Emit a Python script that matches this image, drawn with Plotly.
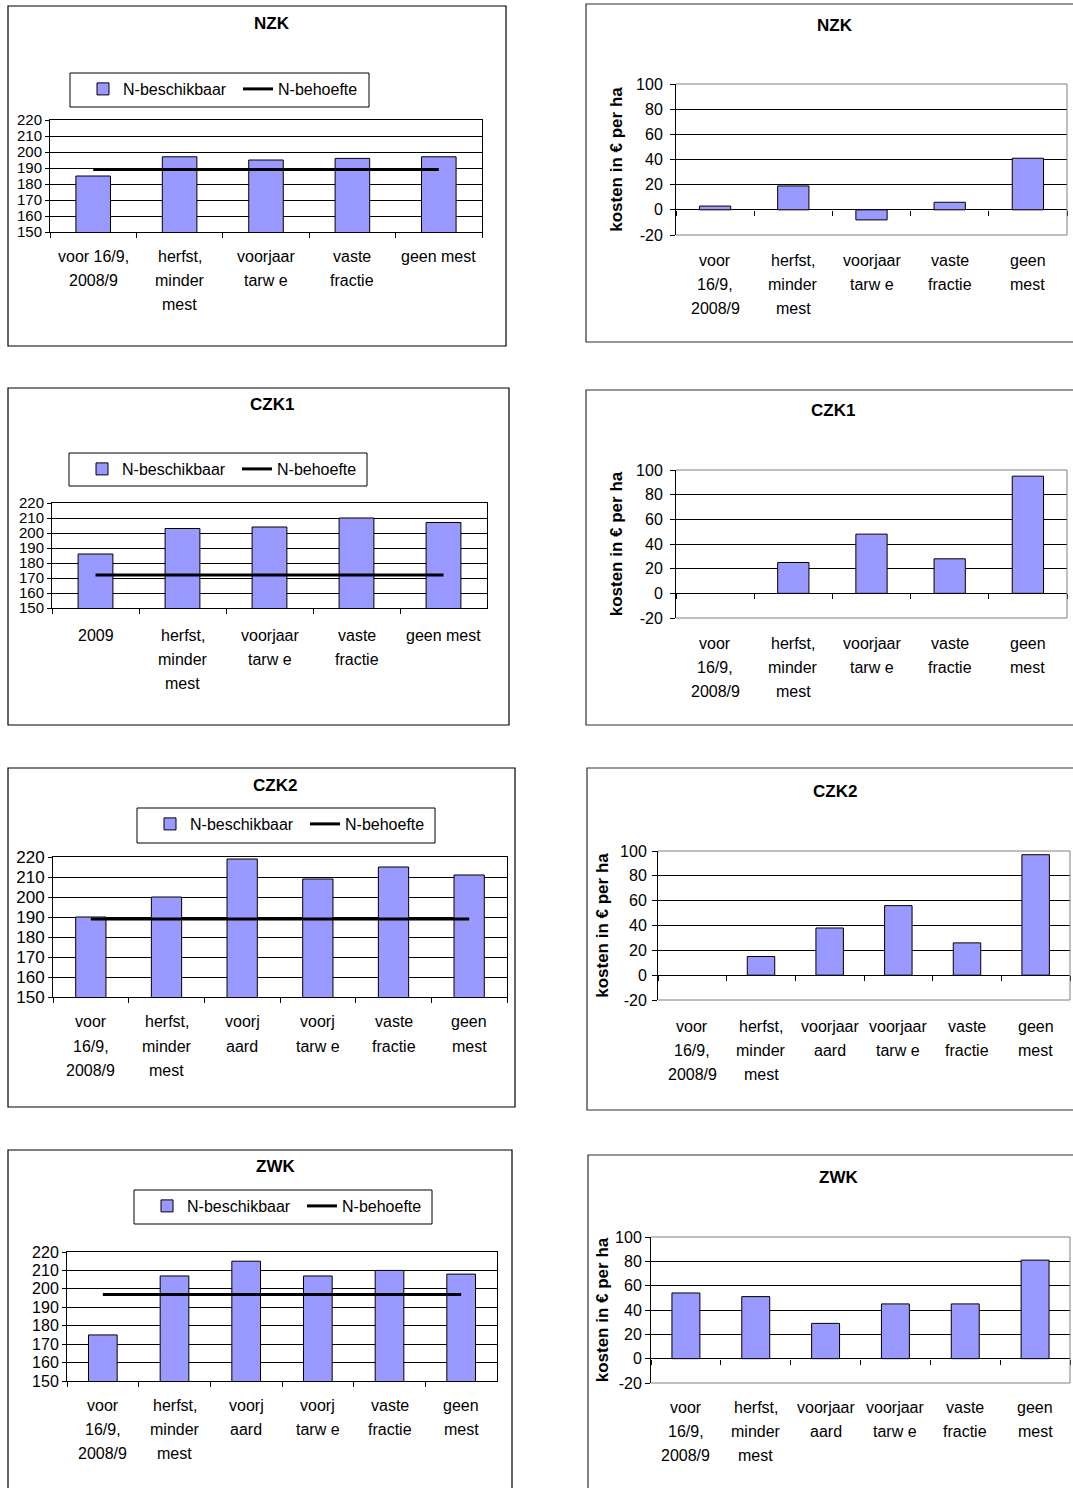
import plotly.graph_objects as go

W, H = 1073, 1488

# ---- N-balans (kg N per ha): beschikbaar vs. behoefte ----
nzk_cats = ["voor 16/9,<br>2008/9", "herfst,<br>minder<br>mest", "voorjaar<br>tarw e",
            "vaste<br>fractie", "geen mest"]
nzk_beschikbaar = [185, 197, 195, 196, 197]
nzk_behoefte = [189, 189, 189, 189, 189]

czk1_cats = ["2009", "herfst,<br>minder<br>mest", "voorjaar<br>tarw e",
             "vaste<br>fractie", "geen mest"]
czk1_beschikbaar = [186, 203, 204, 210, 207]
czk1_behoefte = [172, 172, 172, 172, 172]

czk2_cats = ["voor<br>16/9,<br>2008/9", "herfst,<br>minder<br>mest", "voorj<br>aard",
             "voorj<br>tarw e", "vaste<br>fractie", "geen<br>mest"]
czk2_beschikbaar = [190, 200, 219, 209, 215, 211]
czk2_behoefte = [189, 189, 189, 189, 189, 189]

zwk_cats = ["voor<br>16/9,<br>2008/9", "herfst,<br>minder<br>mest", "voorj<br>aard",
            "voorj<br>tarw e", "vaste<br>fractie", "geen<br>mest"]
zwk_beschikbaar = [175, 207, 215, 207, 210, 208]
zwk_behoefte = [197, 197, 197, 197, 197, 197]

# ---- kosten in euro per ha ----
kosten_cats5 = ["voor<br>16/9,<br>2008/9", "herfst,<br>minder<br>mest", "voorjaar<br>tarw e",
                "vaste<br>fractie", "geen<br>mest"]
kosten_cats6 = ["voor<br>16/9,<br>2008/9", "herfst,<br>minder<br>mest", "voorjaar<br>aard",
                "voorjaar<br>tarw e", "vaste<br>fractie", "geen<br>mest"]
nzk_kosten = [3, 19, -8, 6, 41]
czk1_kosten = [None, 25, 48, 28, 95]
czk2_kosten = [None, 15, 38, 56, 26, 97]
zwk_kosten = [54, 51, 29, 45, 45, 81]

kosten_ticks = [-20, 0, 20, 40, 60, 80, 100]
kosten_ticktext = ["-20", "0", "20", "40", "60", "80", "100"]

locaties = ["NZK", "CZK1", "CZK2", "ZWK"]

FONT = "Liberation Sans, Arial, sans-serif"
BAR = "#9999FF"
LINE_STEP = 24  # px between lines of a category label


def px_x(x):
    return x / W


def px_y(y):
    return 1 - y / H


# frames in pixels: plot area (x0, x1, ytop, ybottom), title centre, outer box, legend box,
# offset of the first category-label line below the plot area
n_panels = [
    dict(cats=nzk_cats, bars=nzk_beschikbaar, line=nzk_behoefte, plot=(50, 482, 120, 232),
         title=(272, 23), box=(8, 6, 506, 346), legend=(70, 73, 369, 107), yfont=15, lab=24),
    dict(cats=czk1_cats, bars=czk1_beschikbaar, line=czk1_behoefte, plot=(52, 487, 503, 608),
         title=(272, 404), box=(8, 388, 509, 725), legend=(69, 453, 367, 486), yfont=15, lab=27),
    dict(cats=czk2_cats, bars=czk2_beschikbaar, line=czk2_behoefte, plot=(53, 507, 857, 997),
         title=(275, 785), box=(8, 768, 515, 1107), legend=(137, 808, 435, 843), yfont=17, lab=25),
    dict(cats=zwk_cats, bars=zwk_beschikbaar, line=zwk_behoefte, plot=(67, 497, 1252, 1381),
         title=(275, 1166), box=(8, 1150, 512, 1500), legend=(134, 1190, 432, 1224), yfont=16, lab=24),
]
k_panels = [
    dict(cats=kosten_cats5, bars=nzk_kosten, plot=(676, 1067, 84, 235),
         title=(835, 25), box=(586, 4, 1085, 342), ylab=4, tstand=9, lab=25),
    dict(cats=kosten_cats5, bars=czk1_kosten, plot=(676, 1067, 470, 618),
         title=(833, 411), box=(586, 390, 1085, 725), ylab=4, tstand=9, lab=25),
    dict(cats=kosten_cats6, bars=czk2_kosten, plot=(658, 1070, 851, 1000),
         title=(835, 791), box=(587, 768, 1085, 1110), ylab=2, tstand=7, lab=26),
    dict(cats=kosten_cats6, bars=zwk_kosten, plot=(651, 1070, 1237, 1383),
         title=(838, 1177), box=(588, 1155, 1085, 1500), ylab=0, tstand=2, lab=24),
]

fig = go.Figure()
layout = {}
shapes = []
annotations = []

N_RANGE = [150, 220]
K_RANGE = [-20, 100]


def frame(x0, y0, x1, y1, color, width=1.2):
    return dict(type="rect", xref="paper", yref="paper", x0=px_x(x0), x1=px_x(x1),
                y0=px_y(y1), y1=px_y(y0), line=dict(color=color, width=width), layer="below")


def title(i, pos):
    tx, ty = pos
    return dict(text=f"<b>{locaties[i]}</b>", x=px_x(tx), y=px_y(ty), xref="paper",
                yref="paper", xanchor="center", yanchor="middle", showarrow=False,
                font=dict(size=17, color="black"))


def category_labels(xa, cats, first_line_y):
    """Multi-line category labels centred under each category (by index) of axis xa."""
    out = []
    for k, c in enumerate(cats):
        for j, part in enumerate(c.split("<br>")):
            out.append(dict(text=part, x=k, xref=xa, y=px_y(first_line_y + j * LINE_STEP),
                            yref="paper", xanchor="center", yanchor="middle",
                            showarrow=False, font=dict(size=16, color="black")))
    return out


def cat_axis(cats, x0, x1, **kw):
    return dict(domain=[px_x(x0), px_x(x1)], type="category", categoryorder="array",
                categoryarray=cats, range=[-0.5, len(cats) - 0.5], tickson="boundaries",
                ticks="outside", ticklen=5, tickcolor="black", showgrid=False,
                showticklabels=False, fixedrange=True, **kw)


idx = 0
for i, p in enumerate(n_panels):
    idx += 1
    xa, ya = f"x{idx}", f"y{idx}"
    leg = "legend" if i == 0 else f"legend{i + 1}"
    fig.add_trace(go.Bar(x=p["cats"], y=p["bars"], name="N-beschikbaar", xaxis=xa, yaxis=ya,
                         marker=dict(color=BAR, line=dict(color="black", width=1)),
                         legend=leg, showlegend=True))
    fig.add_trace(go.Scatter(x=p["cats"], y=p["line"], name="N-behoefte", mode="lines",
                             xaxis=xa, yaxis=ya, line=dict(color="black", width=3),
                             legend=leg, showlegend=True))
    x0, x1, yt, yb = p["plot"]
    layout[f"xaxis{idx}"] = cat_axis(p["cats"], x0, x1, anchor=ya, showline=True,
                                     linecolor="black", mirror=True)
    layout[f"yaxis{idx}"] = dict(
        domain=[px_y(yb), px_y(yt)], anchor=xa, range=N_RANGE, tick0=150, dtick=10,
        showgrid=True, gridcolor="black", gridwidth=1, ticks="outside", ticklen=4,
        tickcolor="black", showline=True, linecolor="black", mirror=True, zeroline=False,
        tickfont=dict(size=p["yfont"], color="black"))
    lx0, ly0, lx1, ly1 = p["legend"]
    layout[leg] = dict(x=px_x(lx0 + 13), y=px_y(ly0 - 1), xanchor="left", yanchor="top",
                       orientation="h", borderwidth=0, bgcolor="rgba(0,0,0,0)",
                       entrywidth=110, entrywidthmode="pixels",
                       font=dict(size=16, color="black", family=FONT), traceorder="normal",
                       itemclick=False, itemdoubleclick=False)
    shapes.append(frame(lx0, ly0, lx1, ly1, "black", 1))
    shapes.append(frame(*p["box"], "black"))
    annotations.append(title(i, p["title"]))
    annotations.extend(category_labels(xa, p["cats"], yb + p["lab"]))

for i, p in enumerate(k_panels):
    idx += 1
    xa, ya = f"x{idx}", f"y{idx}"
    fig.add_trace(go.Bar(x=p["cats"], y=p["bars"], name="kosten", xaxis=xa, yaxis=ya,
                         marker=dict(color=BAR, line=dict(color="black", width=1)),
                         showlegend=False))
    x0, x1, yt, yb = p["plot"]
    d0, d1 = px_y(yb), px_y(yt)
    # category axis crosses the value axis at 0
    frac0 = (0 - K_RANGE[0]) / (K_RANGE[1] - K_RANGE[0])
    zero_pos = d0 + frac0 * (d1 - d0)
    layout[f"xaxis{idx}"] = cat_axis(p["cats"], x0, x1, anchor="free", position=zero_pos,
                                     showline=False)
    layout[f"yaxis{idx}"] = dict(
        domain=[d0, d1], anchor=xa, range=K_RANGE, tickmode="array",
        tickvals=kosten_ticks, ticktext=kosten_ticktext,
        showgrid=True, gridcolor="black", gridwidth=1, ticks="outside", ticklen=5,
        tickcolor="black", showline=True, linecolor="black", zeroline=False,
        tickfont=dict(size=16, color="black"), ticklabelstandoff=p["ylab"],
        title=dict(text="<b>kosten in € per ha</b>", font=dict(size=17, color="black"),
                   standoff=p["tstand"]))
    # plot area frame (top, right, bottom) in grey
    for (ax0, ay0, ax1, ay1) in [(0, 1, 1, 1), (1, 0, 1, 1), (0, 0, 1, 0)]:
        shapes.append(dict(type="line", xref=f"{xa} domain", yref=f"{ya} domain",
                           x0=ax0, y0=ay0, x1=ax1, y1=ay1,
                           line=dict(color="#808080", width=1), layer="above"))
    shapes.append(frame(*p["box"], "#303030"))
    annotations.append(title(i, p["title"]))
    annotations.extend(category_labels(xa, p["cats"], yb + p["lab"]))

fig.update_layout(**layout)
fig.update_layout(
    width=W, height=H, margin=dict(l=0, r=0, t=0, b=0, autoexpand=False), autosize=False,
    paper_bgcolor="white", plot_bgcolor="white", bargap=0.6,
    font=dict(family=FONT, color="black"),
    shapes=shapes, annotations=annotations,
)

fig.write_html("out.html", config={"displayModeBar": False})
